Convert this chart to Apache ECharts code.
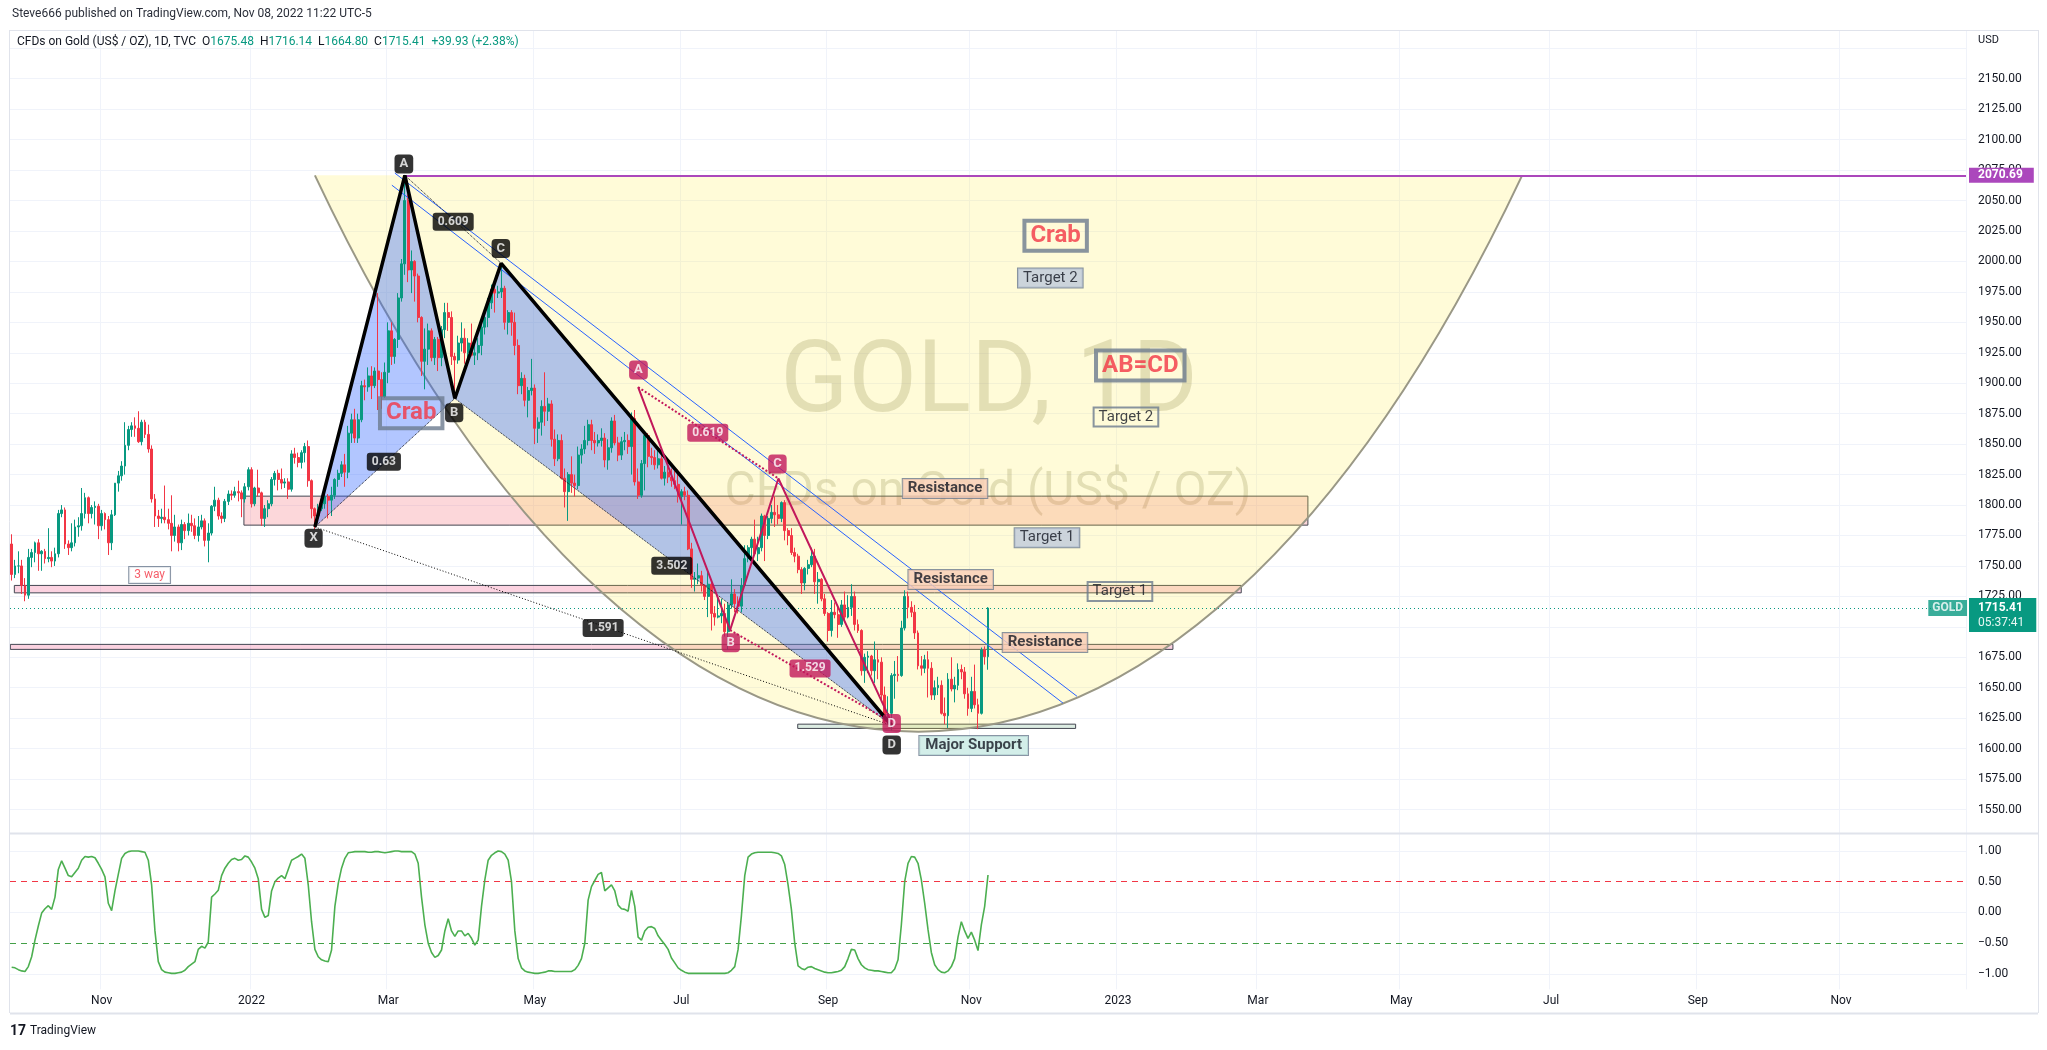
<!DOCTYPE html>
<html>
<head>
<meta charset="utf-8">
<title>GOLD 1D</title>
<script src="https://cdn.jsdelivr.net/npm/echarts@6/dist/echarts.min.js"></script>
<style>
html,body{margin:0;padding:0;background:#ffffff;}
#chart{width:2047px;height:1050px;}
</style>
</head>
<body>
<div id="chart"></div>
<script>
// ---------------- DATA ----------------
const startDate = [2021, 8, 23];   // first bar: 23 Sep 2021 (weekday bars)
const barCount = 587;              // bars on the time scale (incl. empty future)

const opens = [
1768,1743,1750,1750,1734,1726,1757,1761,1769,1760,
1762,1756,1757,1754,1760,1793,1796,1768,1765,1769,
1782,1783,1793,1806,1793,1798,1799,1783,1793,1788,
1769,1792,1818,1824,1832,1849,1862,1865,1863,1852,
1868,1858,1846,1805,1791,1789,1790,1788,1785,1775,
1782,1769,1784,1779,1785,1783,1775,1782,1787,1771,
1777,1799,1804,1791,1789,1803,1809,1808,1811,1810,
1805,1815,1829,1801,1814,1810,1789,1797,1801,1821,
1826,1821,1818,1819,1813,1842,1839,1835,1843,1848,
1820,1797,1791,1797,1801,1807,1804,1808,1821,1826,
1833,1827,1859,1870,1855,1870,1898,1897,1906,1898,
1910,1903,1889,1909,1943,1922,1936,1970,1998,2050,
1993,2000,1988,1954,1918,1928,1943,1921,1936,1921,
1944,1958,1954,1922,1919,1933,1937,1925,1933,1923,
1925,1931,1946,1954,1966,1977,1974,1975,1978,1950,
1958,1950,1931,1898,1904,1886,1894,1896,1863,1868,
1881,1877,1883,1854,1838,1853,1822,1811,1825,1818,
1816,1841,1846,1853,1866,1853,1851,1853,1855,1837,
1847,1869,1851,1841,1852,1853,1848,1871,1819,1808,
1834,1857,1840,1839,1833,1838,1822,1827,1823,1820,
1817,1807,1811,1808,1764,1739,1740,1742,1734,1725,
1735,1711,1708,1709,1711,1696,1718,1727,1719,1717,
1734,1756,1765,1772,1760,1765,1791,1775,1789,1794,
1792,1789,1802,1779,1775,1761,1758,1747,1736,1748,
1751,1758,1737,1739,1723,1711,1697,1712,1710,1702,
1718,1708,1716,1725,1702,1697,1664,1675,1676,1664,
1673,1671,1644,1622,1629,1660,1661,1660,1699,1725,
1716,1712,1695,1668,1666,1673,1666,1644,1650,1652,
1629,1627,1657,1649,1652,1665,1663,1645,1633,1647,
1636,1629,1681,1675.48];

const highs = [
1776,1755,1762,1755,1740,1764,1764,1770,1772,1763,
1764,1781,1762,1765,1796,1800,1798,1771,1785,1788,
1790,1814,1810,1807,1800,1803,1801,1796,1794,1791,
1796,1818,1828,1836,1868,1865,1868,1872,1877,1870,
1870,1866,1849,1809,1796,1797,1816,1797,1808,1792,
1784,1788,1786,1793,1792,1789,1791,1792,1789,1785,
1800,1815,1806,1794,1805,1812,1812,1815,1820,1812,
1818,1831,1831,1815,1829,1811,1800,1804,1823,1828,
1829,1830,1822,1822,1845,1847,1843,1845,1851,1853,
1821,1798,1801,1807,1810,1809,1815,1822,1829,1836,
1842,1865,1875,1879,1875,1902,1903,1913,1914,1913,
1974,1909,1917,1950,1950,1937,1974,2002,2070,2055,
2009,2001,1990,1955,1945,1949,1945,1938,1938,1947,
1966,1966,1959,1925,1939,1950,1945,1937,1949,1934,
1937,1949,1958,1970,1981,1982,1980,1998,1980,1960,
1960,1958,1936,1909,1907,1897,1920,1899,1872,1886,
1909,1888,1886,1862,1858,1858,1830,1827,1840,1825,
1848,1850,1865,1870,1870,1860,1858,1863,1859,1854,
1872,1874,1856,1856,1860,1858,1876,1878,1830,1837,
1858,1859,1847,1845,1847,1845,1832,1838,1830,1828,
1829,1813,1815,1812,1769,1745,1752,1746,1735,1745,
1736,1717,1724,1723,1719,1720,1739,1731,1725,1740,
1767,1767,1774,1788,1774,1793,1792,1791,1800,1807,
1800,1803,1804,1781,1781,1765,1760,1749,1749,1755,
1765,1764,1745,1740,1727,1712,1722,1720,1717,1722,
1729,1726,1735,1729,1706,1698,1678,1680,1677,1688,
1681,1675,1651,1643,1662,1672,1676,1705,1730,1729,
1721,1718,1697,1676,1677,1680,1671,1656,1659,1656,
1642,1662,1675,1659,1670,1669,1667,1650,1659,1669,
1641,1683,1684,1716.14];

const lows = [
1738,1740,1744,1727,1721,1723,1749,1753,1746,1746,
1752,1753,1749,1750,1757,1790,1764,1759,1762,1766,
1774,1779,1789,1785,1789,1784,1772,1779,1780,1759,
1763,1791,1811,1820,1825,1845,1856,1856,1851,1849,
1855,1843,1802,1782,1782,1785,1785,1780,1762,1770,
1762,1763,1772,1775,1778,1772,1770,1780,1766,1753,
1775,1795,1788,1785,1786,1800,1804,1806,1803,1790,
1802,1812,1798,1799,1807,1783,1782,1790,1799,1816,
1812,1813,1814,1805,1811,1834,1831,1830,1835,1815,
1789,1780,1785,1795,1797,1789,1791,1805,1815,1823,
1815,1822,1851,1851,1851,1868,1886,1893,1887,1896,
1878,1879,1888,1900,1915,1916,1929,1967,1989,1983,
1974,1967,1950,1906,1895,1915,1918,1915,1910,1914,
1937,1943,1915,1890,1916,1926,1916,1915,1922,1915,
1919,1923,1940,1946,1961,1958,1970,1970,1944,1940,
1939,1923,1891,1891,1881,1872,1890,1850,1851,1857,
1865,1869,1848,1832,1836,1821,1798,1787,1810,1807,
1813,1834,1842,1849,1845,1842,1848,1848,1831,1829,
1843,1849,1836,1837,1845,1842,1825,1816,1805,1806,
1812,1831,1833,1829,1830,1821,1816,1818,1815,1813,
1802,1784,1804,1763,1732,1729,1735,1729,1722,1708,
1697,1701,1707,1703,1692,1681,1715,1712,1711,1712,
1733,1753,1754,1759,1754,1762,1754,1772,1785,1782,
1784,1786,1771,1767,1759,1753,1744,1727,1730,1743,
1749,1727,1719,1721,1709,1688,1692,1707,1691,1700,
1704,1707,1709,1697,1695,1660,1654,1662,1660,1654,
1657,1639,1621,1620,1615,1641,1655,1659,1697,1707,
1708,1690,1665,1660,1662,1642,1640,1640,1644,1628,
1620,1617,1647,1638,1648,1657,1641,1627,1630,1633,
1616,1628,1669,1664.80];

const closes = [
1743,1750,1750,1734,1726,1757,1761,1769,1760,1762,
1756,1757,1754,1760,1793,1796,1768,1765,1769,1782,
1783,1793,1806,1793,1798,1799,1783,1793,1788,1769,
1792,1818,1824,1832,1849,1862,1865,1863,1852,1868,
1858,1846,1805,1791,1789,1790,1788,1785,1775,1782,
1769,1784,1779,1785,1783,1775,1782,1787,1771,1777,
1799,1804,1791,1789,1803,1809,1808,1811,1810,1805,
1815,1829,1801,1814,1810,1789,1797,1801,1821,1826,
1821,1818,1819,1813,1842,1839,1835,1843,1848,1820,
1797,1791,1797,1801,1807,1804,1808,1821,1826,1833,
1827,1859,1870,1855,1870,1898,1897,1906,1898,1910,
1903,1889,1909,1943,1922,1936,1970,1998,2050,1993,
2000,1988,1954,1918,1928,1943,1921,1936,1921,1944,
1958,1954,1922,1919,1933,1937,1925,1933,1923,1925,
1931,1946,1954,1966,1977,1974,1975,1978,1950,1958,
1950,1931,1898,1904,1886,1894,1896,1863,1868,1881,
1877,1883,1854,1838,1853,1822,1811,1825,1818,1816,
1841,1846,1853,1866,1853,1851,1853,1855,1837,1847,
1869,1851,1841,1852,1853,1848,1871,1819,1808,1834,
1857,1840,1839,1833,1838,1822,1827,1823,1820,1817,
1807,1811,1808,1764,1739,1740,1742,1734,1725,1735,
1711,1708,1709,1711,1696,1718,1727,1719,1717,1734,
1756,1765,1772,1760,1765,1791,1775,1789,1794,1792,
1789,1802,1779,1775,1761,1758,1747,1736,1748,1751,
1758,1737,1739,1723,1711,1697,1712,1710,1702,1718,
1708,1716,1725,1702,1697,1664,1675,1676,1664,1673,
1671,1644,1622,1629,1660,1661,1660,1699,1725,1716,
1712,1695,1668,1666,1673,1666,1644,1650,1652,1629,
1627,1657,1649,1652,1665,1663,1645,1633,1647,1636,
1629,1681,1675.48,1715.41];

const oscValues = [
-0.89,-0.90,-0.93,-0.95,-0.96,-0.88,-0.72,-0.45,-0.22,-0.01,
0.06,0.11,0.05,0.25,0.70,0.84,0.72,0.60,0.58,0.65,
0.72,0.85,0.91,0.90,0.91,0.89,0.80,0.70,0.58,0.15,
0.03,0.35,0.62,0.88,0.96,0.99,1.00,1.00,1.00,0.99,
0.98,0.85,0.45,-0.30,-0.80,-0.93,-0.97,-0.98,-0.99,-0.99,
-0.98,-0.97,-0.94,-0.88,-0.84,-0.80,-0.60,-0.55,-0.58,-0.48,
0.25,0.30,0.36,0.60,0.72,0.80,0.86,0.88,0.85,0.86,
0.92,0.90,0.82,0.72,0.55,0.05,-0.08,-0.05,0.35,0.50,
0.56,0.60,0.55,0.70,0.85,0.88,0.91,0.95,0.88,0.45,
-0.15,-0.60,-0.72,-0.77,-0.79,-0.80,-0.61,0.10,0.47,0.72,
0.88,0.97,0.98,0.99,0.99,0.99,0.99,0.98,0.98,0.99,
0.99,0.98,0.97,0.98,0.99,1.00,1.00,0.99,0.99,0.99,
0.99,0.95,0.80,0.25,-0.20,-0.50,-0.65,-0.73,-0.70,-0.61,
-0.30,-0.10,-0.30,-0.39,-0.30,-0.30,-0.38,-0.34,-0.42,-0.53,
-0.45,0.10,0.53,0.85,0.93,0.97,1.00,0.99,0.95,0.85,
0.50,-0.30,-0.75,-0.90,-0.95,-0.97,-0.98,-0.99,-0.99,-0.98,
-0.97,-0.95,-0.95,-0.96,-0.96,-0.96,-0.96,-0.96,-0.96,-0.93,
-0.86,-0.75,-0.50,0.20,0.42,0.52,0.62,0.65,0.35,0.40,
0.45,0.35,0.12,0.06,0.05,0.02,0.36,0.10,-0.40,-0.45,
-0.30,-0.24,-0.23,-0.26,-0.38,-0.45,-0.52,-0.60,-0.74,-0.82,
-0.90,-0.94,-0.97,-0.99,-0.99,-0.99,-0.99,-0.99,-0.99,-0.99,
-0.99,-0.99,-0.99,-0.99,-0.99,-0.98,-0.94,-0.88,-0.60,-0.05,
0.60,0.90,0.95,0.97,0.98,0.98,0.98,0.98,0.98,0.97,
0.96,0.92,0.78,0.45,0.05,-0.50,-0.87,-0.91,-0.93,-0.89,
-0.88,-0.91,-0.93,-0.95,-0.97,-0.98,-0.98,-0.97,-0.96,-0.94,
-0.88,-0.75,-0.60,-0.61,-0.75,-0.85,-0.90,-0.93,-0.94,-0.95,
-0.95,-0.96,-0.97,-0.98,-0.98,-0.92,-0.77,-0.20,0.50,0.80,
0.91,0.90,0.80,0.53,0.15,-0.28,-0.65,-0.85,-0.93,-0.97,
-0.98,-0.95,-0.88,-0.75,-0.40,-0.15,-0.30,-0.42,-0.32,-0.45,
-0.62,-0.20,0.10,0.61];

// drawing anchors, each [barIndex, price]
const crabPoints = [[91,1782],[118,2070.69],[133,1887.5],[146.9,1998.4],[264.1,1619]]; // X A B C D
const crabPointLabels = [['X',90.6,1772.8],['A',117.7,2079.9],['B',132.8,1875.7],['C',146.8,2010.7],['D',264.1,1602.9]];
const crabRatioLabels = [['0.63',111.7,1835.5],['0.609',132.5,2032.5],['3.502',198.1,1750.1],['1.591',177.5,1699]];
const abcdPoints = [[188,1896.8],[215.6,1697.3],[230.1,1821.8],[264,1621.8]]; // A B C D
const abcdPointLabels = [['A',188.1,1910.8],['B',215.8,1686.9],['C',229.8,1833.6],['D',264.1,1620.7]];
const abcdRatioLabels = [['0.619',208.9,1859.3],['1.529',239.6,1665.8]];
const channelUpper = [[115,2072.5],[319.7,1643]];
const channelLower = [[114.1,2062.6],[315.5,1637.4]];
const cupCurve = [[91,2070.69],[196.1,1461.7],[348.2,1461.7],[453.3,2070.69]];
const levelStart = [118, 2070.69];
const zoneResistance = [[69.7,1783.5],[389,1807.3]];
const zoneThreeWay = [[0.8,1727.9],[369,1734]];
const zoneLower = [[-0.4,1681.5],[348.5,1685.6]];
const zoneSupport = [[235.9,1616.6],[319.3,1620.1]];
const resistanceLabels = [['Resistance',280.1,1813.6],['Resistance',281.8,1738.8],['Resistance',310.1,1687.2]];
const targetFilledLabels = [['Target 1',310.7,1773.2],['Target 2',311.7,1986.3]];
const targetPlainLabels = [['Target 1',332.6,1729],['Target 2',334.4,1872.2]];
const bigLabels = [['Crab',313.3,2021.1],['AB=CD',338.7,1914.5],['Crab',119.9,1875.4]];
const threeWayLabels = [['3 way',41.4,1742.5]];
const supportLabels = [['Major Support',288.7,1602.6]];
const symbolTag = [['GOLD',581,1715.41]];
const priceLabelRange = [1550, 2150];

// ---------------- BUILD ----------------
const UP = '#089981', DOWN = '#f23645', GRID = '#f0f3fa', TXT = '#131722';
const FONT = 'Roboto';
const monthNames = ['Jan','Feb','Mar','Apr','May','Jun','Jul','Aug','Sep','Oct','Nov','Dec'];

const categories = [];
{
  const d = new Date(Date.UTC(startDate[0], startDate[1], startDate[2]));
  while (categories.length < barCount) {
    const wd = d.getUTCDay();
    if (wd !== 0 && wd !== 6) categories.push(d.toISOString().slice(0, 10));
    d.setUTCDate(d.getUTCDate() + 1);
  }
}
const tickIdx = new Set();
for (let i = 1; i < categories.length; i++) {
  const m = +categories[i].slice(5, 7), pm = +categories[i - 1].slice(5, 7);
  if (m !== pm && m % 2 === 1) tickIdx.add(i);
}
const candles = opens.map((o, i) => [o, closes[i], lows[i], highs[i]]);
const last = closes.length - 1;
const lastClose = closes[last];
const chg = closes[last] - closes[last - 1];

// split line colours (first / extra boundary lines hidden)
const mainSplit = [];
for (let v = 1525; v <= 2175; v += 25) mainSplit.push(v < priceLabelRange[0] ? 'rgba(0,0,0,0)' : GRID);
mainSplit.push('rgba(0,0,0,0)');
const oscSplit = [-1.25,-1,-0.75,-0.5,-0.25,0,0.25,0.5,0.75,1,1.25].map(v => (Math.abs(v) === 1 || v === 0) ? GRID : 'rgba(0,0,0,0)');

function labelSeries(list, style, z) {
  return {
    type: 'scatter', xAxisIndex: 2, yAxisIndex: 0, z: z || 8, silent: true, clip: false,
    symbolSize: 1, itemStyle: { color: 'rgba(0,0,0,0)' },
    label: Object.assign({ show: true, position: 'inside', formatter: '{b}', fontFamily: FONT }, style),
    data: list.map(([t, x, y]) => ({ name: t, value: [x, y] }))
  };
}
function lineSeries(points, color, width, type, z) {
  return {
    type: 'line', xAxisIndex: 2, yAxisIndex: 0, data: points, symbol: 'none', showSymbol: false,
    lineStyle: { color: color, width: width, type: type }, z: z, silent: true, clip: false
  };
}
const zoneItem = (zone, fill, border) => [
  { coord: zone[0], itemStyle: { color: fill, borderColor: border, borderWidth: 1 } },
  { coord: zone[1] }
];

const boxBorder = '#6b7a8f';
const blackPt = { color: '#fff', fontWeight: 'bold', fontSize: 13, backgroundColor: '#000', borderRadius: 4, padding: [3, 5] };
const blackRatio = { color: '#fff', fontWeight: 'bold', fontSize: 12, backgroundColor: '#000', borderRadius: 3, padding: [3, 5] };
const MAG = '#c2185b';

const option = {
  animation: false,
  backgroundColor: '#ffffff',
  textStyle: { fontFamily: FONT },
  grid: [
    { left: 10, top: 30, width: 1956, height: 810 },
    { left: 10, top: 835.6, width: 1956, height: 153.75 }
  ],
  xAxis: [
    { type: 'category', gridIndex: 0, data: categories, boundaryGap: true,
      axisLine: { show: false }, axisTick: { show: false }, axisLabel: { show: false },
      splitLine: { show: true, interval: (i) => tickIdx.has(i), lineStyle: { color: GRID } } },
    { type: 'category', gridIndex: 1, data: categories, boundaryGap: true,
      axisLine: { show: false }, axisTick: { show: false },
      axisLabel: { show: true, interval: (i) => tickIdx.has(i), color: TXT, fontSize: 12, margin: 6, fontFamily: FONT,
        formatter: (v) => { const m = +v.slice(5, 7); return m === 1 ? v.slice(0, 4) : monthNames[m - 1]; } },
      splitLine: { show: true, interval: (i) => tickIdx.has(i), lineStyle: { color: GRID } } },
    { type: 'value', gridIndex: 0, min: -0.5, max: barCount - 0.5, show: false }
  ],
  yAxis: [
    { type: 'value', gridIndex: 0, position: 'right', min: 1525, max: 2190, interval: 25, scale: false,
      axisLine: { show: false }, axisTick: { show: false },
      axisLabel: { margin: 12, color: TXT, fontSize: 12, fontFamily: FONT,
        formatter: (v) => (v < priceLabelRange[0] || v > priceLabelRange[1]) ? '' : v.toFixed(2) },
      splitLine: { show: true, lineStyle: { color: mainSplit } } },
    { type: 'value', gridIndex: 1, position: 'right', min: -1.25, max: 1.25, interval: 0.25,
      axisLine: { show: false }, axisTick: { show: false },
      axisLabel: { margin: 12, color: TXT, fontSize: 12, fontFamily: FONT,
        formatter: (v) => {
          if (Math.abs(v) > 1.0001) return '';
          if (Math.abs(v * 2 - Math.round(v * 2)) > 1e-6) return '';
          return (v < 0 ? '\u2212' : '') + Math.abs(v).toFixed(2);
        } },
      splitLine: { show: true, lineStyle: { color: oscSplit } } }
  ],
  series: [
    // cup / arc drawing
    { type: 'custom', xAxisIndex: 2, yAxisIndex: 0, z: 2, silent: true, clip: false, data: [[cupCurve[0][0], cupCurve[0][1]]],
      renderItem: (params, api) => {
        const p = cupCurve.map(pt => api.coord(pt));
        const pd = 'M' + p[0][0] + ' ' + p[0][1] + ' C' + p[1][0] + ' ' + p[1][1] + ' ' + p[2][0] + ' ' + p[2][1] + ' ' + p[3][0] + ' ' + p[3][1] + ' Z';
        return { type: 'group', children: [
          { type: 'path', shape: { pathData: pd }, style: { fill: 'rgba(255,235,59,0.2)', stroke: null } },
          { type: 'bezierCurve', shape: { x1: p[0][0], y1: p[0][1], cpx1: p[1][0], cpy1: p[1][1], cpx2: p[2][0], cpy2: p[2][1], x2: p[3][0], y2: p[3][1] },
            style: { fill: null, stroke: '#9a9886', lineWidth: 2 } }
        ] };
      } },
    // zones
    { type: 'line', xAxisIndex: 2, yAxisIndex: 0, z: 3, silent: true, data: [], symbol: 'none',
      markArea: { silent: true, data: [
        zoneItem(zoneResistance, 'rgba(242,54,69,0.2)', '#434651'),
        zoneItem(zoneThreeWay, 'rgba(233,30,99,0.2)', '#434651'),
        zoneItem(zoneLower, 'rgba(233,30,99,0.2)', '#434651'),
        zoneItem(zoneSupport, '#dcece2', '#434651')
      ] } },
    // XAB / BCD fills
    { type: 'custom', xAxisIndex: 2, yAxisIndex: 0, z: 4, silent: true, clip: false, data: [[crabPoints[0][0], crabPoints[0][1]]],
      renderItem: (params, api) => {
        const c = crabPoints.map(pt => api.coord(pt));
        return { type: 'group', children: [
          { type: 'polygon', shape: { points: [c[0], c[1], c[2]] }, style: { fill: 'rgba(41,98,255,0.36)' } },
          { type: 'polygon', shape: { points: [c[2], c[3], c[4]] }, style: { fill: 'rgba(41,98,255,0.36)' } }
        ] };
      } },
    // candles
    { type: 'candlestick', name: 'GOLD', xAxisIndex: 0, yAxisIndex: 0, z: 5, barWidth: 2.4, data: candles,
      itemStyle: { color: UP, color0: DOWN, borderColor: UP, borderColor0: DOWN, borderWidth: 1 },
      markLine: { silent: true, symbol: 'none', data: [
        { yAxis: lastClose, lineStyle: { color: UP, type: [1, 3], width: 1 },
          label: { show: true, position: 'end', distance: 3, offset: [0, 7],
            formatter: '{a|' + lastClose.toFixed(2) + '}\n{b|05:37:41}',
            backgroundColor: UP, padding: [2, 12, 2, 9],
            rich: { a: { color: '#fff', fontWeight: 'bold', fontSize: 12, lineHeight: 15, fontFamily: FONT },
                    b: { color: '#e8f7f3', fontSize: 12, lineHeight: 15, fontFamily: FONT } } } }
      ] } },
    // channels + purple level
    Object.assign(lineSeries(channelUpper, '#2962ff', 1, 'solid', 6), {
      markLine: { silent: true, symbol: 'none', data: [[
        { coord: levelStart, lineStyle: { color: '#ab47bc', width: 2, type: 'solid' },
          label: { show: true, position: 'end', distance: 3, formatter: '2070.69', color: '#fff', fontWeight: 'bold', fontSize: 12,
            backgroundColor: '#ab47bc', padding: [2, 11, 1, 9], fontFamily: FONT } },
        { coord: [barCount - 0.5, levelStart[1]] }
      ]] } }),
    lineSeries(channelLower, '#2962ff', 1, 'solid', 6),
    // crab pattern
    lineSeries([crabPoints[0], crabPoints[2]], '#131722', 1, 'dotted', 6),
    lineSeries([crabPoints[1], crabPoints[3]], '#131722', 1, 'dotted', 6),
    lineSeries([crabPoints[2], crabPoints[4]], '#131722', 1, 'dotted', 6),
    lineSeries([crabPoints[0], crabPoints[4]], '#000000', 1, [1, 2], 6),
    lineSeries(crabPoints, '#000000', 3.5, 'solid', 7),
    // AB=CD pattern
    lineSeries([abcdPoints[0], abcdPoints[2]], MAG, 2, 'dotted', 6),
    lineSeries([abcdPoints[1], abcdPoints[3]], MAG, 2, 'dotted', 6),
    lineSeries(abcdPoints, MAG, 2, 'solid', 7),
    // labels
    labelSeries(crabPointLabels, blackPt),
    labelSeries(crabRatioLabels, blackRatio),
    labelSeries(abcdPointLabels, Object.assign({}, blackPt, { backgroundColor: MAG })),
    labelSeries(abcdRatioLabels, Object.assign({}, blackRatio, { backgroundColor: MAG })),
    labelSeries(resistanceLabels, { color: TXT, fontWeight: 'bold', fontSize: 15, backgroundColor: '#f9cdb6', borderColor: boxBorder, borderWidth: 1, padding: [2, 5] }),
    labelSeries(targetFilledLabels, { color: TXT, fontSize: 15, backgroundColor: '#bfcadc', borderColor: boxBorder, borderWidth: 1, padding: [2, 5] }),
    labelSeries(targetPlainLabels, { color: TXT, fontSize: 15, backgroundColor: 'rgba(0,0,0,0)', borderColor: boxBorder, borderWidth: 1, padding: [2, 5] }),
    labelSeries(bigLabels, { color: '#f23645', fontSize: 24, fontWeight: 'bold', backgroundColor: 'rgba(0,0,0,0)', borderColor: boxBorder, borderWidth: 2, padding: [3, 6] }),
    labelSeries(threeWayLabels, { color: '#f23645', fontSize: 12, backgroundColor: '#ffffff', borderColor: boxBorder, borderWidth: 1, padding: [2, 5] }),
    labelSeries(supportLabels, { color: TXT, fontWeight: 'bold', fontSize: 15, backgroundColor: '#c8eae3', borderColor: boxBorder, borderWidth: 1, padding: [2, 6] }),
    labelSeries(symbolTag, { color: '#fff', fontWeight: 'bold', fontSize: 12, backgroundColor: UP, padding: [2, 4] }),
    // oscillator
    { type: 'line', xAxisIndex: 1, yAxisIndex: 1, data: oscValues, symbol: 'none', showSymbol: false, z: 5,
      lineStyle: { color: '#4caf50', width: 1.6 },
      markLine: { silent: true, symbol: 'none', label: { show: false }, data: [
        { yAxis: 0.5, lineStyle: { color: '#f23645', type: [6, 5], width: 1 } },
        { yAxis: -0.5, lineStyle: { color: '#43a047', type: [6, 5], width: 1 } }
      ] } }
  ],
  graphic: [
    // watermark
    { type: 'text', z: 1, silent: true, style: { text: 'GOLD, 1D', x: 989, y: 386, textAlign: 'center', textVerticalAlign: 'middle',
      font: '100px Roboto', fill: 'rgba(120,115,80,0.25)' } },
    { type: 'text', z: 1, silent: true, style: { text: 'CFDs on Gold (US$ / OZ)', x: 988, y: 493, textAlign: 'center', textVerticalAlign: 'middle',
      font: '48px Roboto', fill: 'rgba(120,115,80,0.25)' } },
    // frame
    { type: 'line', z: 20, silent: true, shape: { x1: 10, y1: 30.5, x2: 2038, y2: 30.5 }, style: { stroke: '#e0e3eb', lineWidth: 1 } },
    { type: 'line', z: 20, silent: true, shape: { x1: 9.5, y1: 30, x2: 9.5, y2: 1013 }, style: { stroke: '#e0e3eb', lineWidth: 1 } },
    { type: 'line', z: 20, silent: true, shape: { x1: 2038.5, y1: 30, x2: 2038.5, y2: 1013 }, style: { stroke: '#e0e3eb', lineWidth: 1 } },
    { type: 'line', z: 20, silent: true, shape: { x1: 10, y1: 1013.5, x2: 2038, y2: 1013.5 }, style: { stroke: '#e0e3eb', lineWidth: 2 } },
    { type: 'line', z: 20, silent: true, shape: { x1: 10, y1: 833.5, x2: 2038, y2: 833.5 }, style: { stroke: '#e0e3eb', lineWidth: 2 } },
    // header
    { type: 'text', z: 20, silent: true, style: { text: 'Steve666 published on TradingView.com, Nov 08, 2022 11:22 UTC-5',
      x: 12, y: 14, textVerticalAlign: 'middle', font: '12px Roboto', fill: '#2a2e39' } },
    { type: 'text', z: 20, silent: true, style: {
      text: '{t|CFDs on Gold (US$ / OZ), 1D, TVC}  {t|O}{v|' + opens[last].toFixed(2) + '}  {t|H}{v|' + highs[last].toFixed(2) +
            '}  {t|L}{v|' + lows[last].toFixed(2) + '}  {t|C}{v|' + closes[last].toFixed(2) + '}  {v|+' + chg.toFixed(2) +
            ' (+' + (chg / closes[last - 1] * 100).toFixed(2) + '%)}',
      x: 17, y: 42, textVerticalAlign: 'middle', font: '12px Roboto',
      rich: { t: { fill: '#131722', fontSize: 12, fontFamily: FONT }, v: { fill: UP, fontSize: 12, fontFamily: FONT } } } },
    { type: 'text', z: 20, silent: true, style: { text: 'USD', x: 1978, y: 40, textVerticalAlign: 'middle', font: '11px Roboto', fill: '#131722' } },
    // logo
    { type: 'text', z: 20, silent: true, style: { text: '17', x: 10, y: 1031, textVerticalAlign: 'middle', font: 'bold 14px Roboto', fill: '#131722' } },
    { type: 'text', z: 20, silent: true, style: { text: 'TradingView', x: 30, y: 1031, textVerticalAlign: 'middle', font: '12px Roboto', fill: '#131722' } }
  ]
};

const chart = echarts.init(document.getElementById('chart'), null, { renderer: 'canvas' });
chart.setOption(option);
</script>
</body>
</html>
